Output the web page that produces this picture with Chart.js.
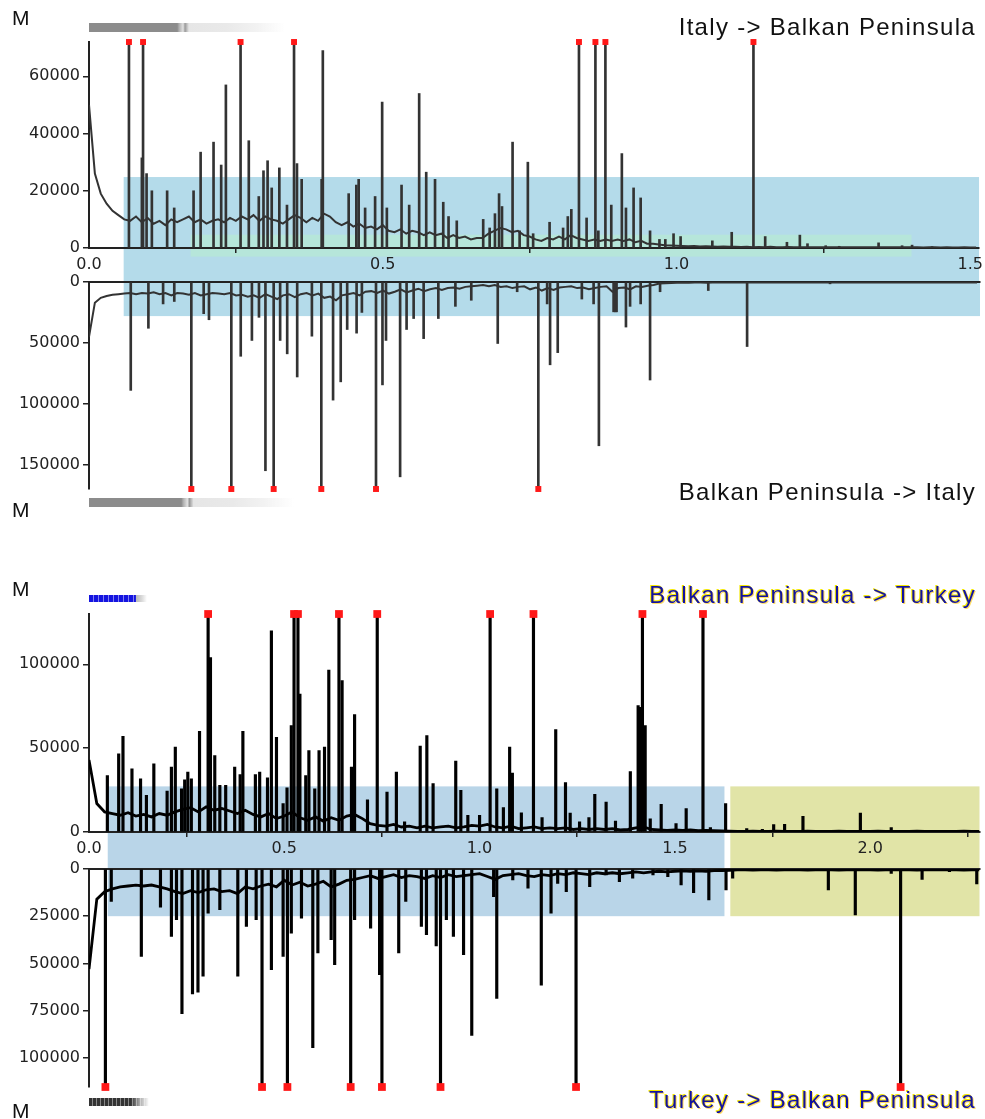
<!DOCTYPE html>
<html>
<head>
<meta charset="utf-8">
<script src="https://cdn.jsdelivr.net/npm/chart.js@4.4.1/dist/chart.umd.min.js"></script>
<style>
  body { margin: 0; background: #fff; width: 985px; height: 1119px; position: relative; overflow: hidden; font-family: "Liberation Sans", Arial, sans-serif; }
  canvas { position: absolute; left: 0; }
  .lbl { position: absolute; white-space: nowrap; color: #111; line-height: 1; }
  .m { font-size: 21px; left: 12px; }
  .ttl { font-size: 24px; right: 9px; letter-spacing: 1.3px; }
  .blue { color: #1212a0; text-shadow: -1px -1px 0 #f4e800, 1px 1px 0 rgba(255,200,0,0.6); }
  .strip { position: absolute; left: 89px; }
  .grey { width: 196px; height: 9px; background: linear-gradient(90deg, #8c8c8c 0, #8c8c8c 45%, #b0b0b0 46%, #e2e2e2 48%, #9a9a9a 49%, #e6e6e6 51%, #e9e9e9 70%, #f2f2f2 85%, rgba(255,255,255,0) 100%); }
  .bluebar { width: 58px; height: 7px; background: linear-gradient(90deg, rgba(255,255,255,0) 0, rgba(255,255,255,0) 80%, #bbb 82%, #ddd 92%, rgba(255,255,255,0) 100%), repeating-linear-gradient(90deg, #1414e0 0 4px, #8080f0 4px 5px); background-size: 100% 100%, 47px 100%; background-repeat: no-repeat; }
  .darkbar { width: 60px; height: 8px; background: linear-gradient(90deg, rgba(255,255,255,0) 0, rgba(255,255,255,0) 70%, rgba(255,255,255,0.6) 85%, #fff 100%), repeating-linear-gradient(90deg, #333 0 3px, #888 3px 4px); }
</style>
</head>
<body>
<canvas id="c1" width="985" height="282" style="top:0px"></canvas>
<canvas id="c2" width="985" height="258" style="top:262px"></canvas>
<canvas id="c3" width="985" height="309" style="top:560px"></canvas>
<canvas id="c4" width="985" height="270" style="top:849px"></canvas>

<div class="lbl m" style="top:7px">M</div>
<div class="strip grey" style="top:23px"></div>
<div class="lbl ttl" style="top:15px">Italy -&gt; Balkan Peninsula</div>
<div class="lbl ttl" style="top:480px">Balkan Peninsula -&gt; Italy</div>
<div class="strip grey" style="top:498px; width:205px"></div>
<div class="lbl m" style="top:499px">M</div>

<div class="lbl m" style="top:578px">M</div>
<div class="strip bluebar" style="top:595px"></div>
<div class="lbl ttl blue" style="top:583px">Balkan Peninsula -&gt; Turkey</div>
<div class="lbl ttl blue" style="top:1088px">Turkey -&gt; Balkan Peninsula</div>
<div class="strip darkbar" style="top:1098px"></div>
<div class="lbl m" style="top:1100px">M</div>

<script>
// ---- Italy -> Balkan Peninsula (baseline every 0.01) ----
const p1Step = 0.01;
const p1Base = [
  50000, 26000, 19000, 15500, 13000, 11500, 10000, 9500, 11000, 9000,
  10500, 8500, 9500, 8000, 10000, 9000, 10000, 11000, 9000, 10000,
  8500, 9500, 10000, 9000, 10500, 9500, 11000, 10000, 11500, 9500,
  11000, 10000, 9500, 8500, 10000, 11500, 10500, 9000, 10500, 9500,
  12000, 11000, 9000, 8000, 9000, 7500, 8500, 7000, 7500, 6500,
  8000, 6000, 5500, 6500, 5000, 6000, 5500, 4500, 5500, 4500,
  5000, 3500, 4500, 3500, 4000, 3000, 3500, 3500, 5000, 6000,
  7000, 6500, 5500, 6000, 4500, 4000, 3000, 2500, 3500, 3000,
  4000, 3000, 4500, 3500, 3000, 2500, 3000, 2500, 3000, 2500,
  3000, 2500, 3000, 2000, 2500, 1500, 1500, 1200, 1000, 900,
  800, 700, 600, 700, 500, 600, 500, 400, 500, 400,
  400, 350, 400, 300, 350, 300, 400, 300, 300, 350,
  300, 300, 250, 300, 300, 250, 300, 250, 300, 250,
  300, 250, 250, 300, 250, 250, 300, 250, 250, 250,
  250, 250, 200, 250, 250, 200, 250, 200, 200, 250, 200, 200
];
const p1SpikeX = [0.068, 0.090, 0.092, 0.098, 0.107, 0.133, 0.145, 0.178, 0.190, 0.212, 0.225, 0.233, 0.258, 0.272, 0.289, 0.297, 0.304, 0.311, 0.324, 0.337, 0.349, 0.354, 0.362, 0.396, 0.398, 0.442, 0.455, 0.459, 0.470, 0.487, 0.499, 0.507, 0.532, 0.545, 0.562, 0.574, 0.589, 0.603, 0.612, 0.626, 0.671, 0.682, 0.691, 0.698, 0.703, 0.721, 0.733, 0.747, 0.756, 0.784, 0.807, 0.815, 0.821, 0.834, 0.847, 0.862, 0.867, 0.879, 0.889, 0.907, 0.914, 0.927, 0.939, 0.955, 0.971, 0.981, 0.995, 1.007, 1.061, 1.094, 1.131, 1.151, 1.188, 1.210, 1.223, 1.254, 1.277, 1.344, 1.384, 1.401, 1.435];
const p1SpikeY = [72000, 31500, 72000, 26000, 20000, 20000, 14000, 20000, 33500, 37000, 29000, 57000, 72000, 37500, 18000, 27000, 30500, 21000, 28000, 15000, 72000, 29500, 24000, 24000, 69000, 19000, 22000, 24000, 14000, 18000, 51000, 14000, 22000, 15000, 54000, 26500, 24000, 16000, 11000, 9500, 10000, 7000, 12000, 19000, 14500, 37000, 6000, 30000, 5000, 9000, 7000, 11000, 13500, 72000, 10500, 72000, 6000, 72000, 15000, 33000, 14000, 21000, 17500, 6000, 3000, 3000, 5000, 4000, 2500, 5500, 72000, 4000, 2000, 4500, 1500, 800, 600, 1800, 800, 1000, 500];
const p1Peaks = [0.068, 0.092, 0.258, 0.349, 0.834, 0.862, 0.879, 1.131];
const p1Max = 72000;
const p1Ticks = [0, 20000, 40000, 60000];

// ---- Balkan Peninsula -> Italy ----
const p2Step = 0.01;
const p2Base = [
  45000, 17000, 13000, 11500, 10500, 10000, 9500, 9000, 10000, 9000,
  9500, 8500, 10000, 9000, 11000, 9000, 9500, 10500, 9000, 11000,
  10000, 9000, 9500, 10000, 9000, 11000, 10500, 12000, 11000, 13000,
  10000, 12000, 14000, 11000, 10000, 12500, 10000, 9000, 11000, 9500,
  13000, 12000, 15000, 11000, 10000, 9000, 11000, 8000, 7500, 9000,
  7000, 9500, 8000, 6000, 8500, 7000, 5500, 7500, 6000, 5000,
  6500, 5000, 4500, 5500, 4000, 3500, 3000, 2500, 3500, 2500,
  4000, 3500, 5000, 4000, 3500, 6000, 4500, 7000, 5000, 6500,
  4500, 4000, 3500, 5000, 4500, 6000, 5000, 4000, 3500, 8000,
  5000, 4500, 6000, 3500, 4000, 3000, 2500, 1200, 1000, 800,
  700, 600, 600, 500, 500, 600, 500, 500, 400, 500,
  500, 400, 400, 400, 350, 400, 350, 400, 350, 400,
  400, 350, 400, 400, 350, 400, 350, 350, 400, 350,
  350, 400, 350, 350, 400, 350, 350, 400, 350, 350,
  400, 350, 350, 400, 350, 350, 350, 350, 400, 350, 350, 350
];
const p2SpikeX = [0.071, 0.101, 0.126, 0.145, 0.174, 0.195, 0.204, 0.242, 0.258, 0.277, 0.289, 0.300, 0.314, 0.325, 0.337, 0.354, 0.379, 0.395, 0.415, 0.428, 0.439, 0.455, 0.464, 0.488, 0.499, 0.505, 0.529, 0.540, 0.552, 0.569, 0.594, 0.623, 0.650, 0.695, 0.728, 0.764, 0.779, 0.784, 0.797, 0.838, 0.858, 0.867, 0.892, 0.895, 0.897, 0.913, 0.920, 0.938, 0.954, 0.971, 1.053, 1.119, 1.260];
const p2SpikeY = [89000, 38000, 18000, 16000, 170000, 26000, 31000, 170000, 61000, 48000, 29000, 155000, 170000, 48000, 59000, 78000, 44500, 170000, 97000, 82000, 39000, 42000, 25000, 170000, 84500, 48000, 160000, 39000, 30000, 46500, 30000, 20000, 15000, 50500, 8000, 170000, 18000, 68000, 58000, 14000, 18000, 134500, 24500, 24500, 24500, 37000, 20000, 18000, 80500, 8000, 7000, 53000, 1500];
const p2Peaks = [0.174, 0.242, 0.314, 0.395, 0.488, 0.764];
const p2Max = 170000;
const p2Ticks = [0, 50000, 100000, 150000];
const topXTicks = [0, 0.5, 1.0, 1.5];

// ---- Balkan Peninsula -> Turkey (baseline every 0.02) ----
const p3Step = 0.02;
const p3Base = [
  43000, 17000, 12000, 11000, 10000, 11500, 9500, 10500, 9000, 11000,
  10000, 12000, 13500, 14500, 12000, 15000, 13000, 14000, 12500, 11000,
  13000, 10500, 9000, 11000, 8000, 9500, 12000, 8500, 7000, 9000,
  6500, 8500, 7000, 9500, 10500, 8000, 5000, 4000, 3500, 4500,
  3000, 3500, 2500, 3500, 2500, 3000, 3500, 2500, 3000, 4000,
  3500, 4500, 3000, 2500, 3500, 2000, 2500, 3000, 2000, 2500,
  2000, 2500, 1500, 2000, 1500, 2000, 1500, 2000, 1200, 1500,
  2500, 3000, 1500, 1200, 1000, 1200, 1000, 1200, 800, 1000,
  800, 600, 500, 400, 400, 450, 400, 400, 450, 400,
  400, 400, 450, 400, 400, 400, 450, 400, 400, 400,
  400, 450, 400, 400, 400, 400, 450, 400, 400, 400,
  400, 400, 450, 400, 400
];
const p3SpikeX = [0.047, 0.076, 0.087, 0.110, 0.132, 0.147, 0.166, 0.200, 0.211, 0.221, 0.237, 0.245, 0.253, 0.262, 0.283, 0.305, 0.311, 0.322, 0.335, 0.350, 0.373, 0.387, 0.394, 0.426, 0.437, 0.457, 0.467, 0.480, 0.497, 0.507, 0.518, 0.525, 0.535, 0.540, 0.555, 0.563, 0.578, 0.589, 0.603, 0.614, 0.640, 0.648, 0.672, 0.680, 0.713, 0.738, 0.763, 0.787, 0.808, 0.848, 0.865, 0.881, 0.939, 0.952, 0.970, 1.000, 1.027, 1.044, 1.061, 1.077, 1.084, 1.107, 1.138, 1.160, 1.195, 1.220, 1.232, 1.256, 1.280, 1.295, 1.324, 1.348, 1.386, 1.406, 1.412, 1.417, 1.424, 1.437, 1.465, 1.503, 1.529, 1.572, 1.591, 1.630, 1.684, 1.724, 1.753, 1.781, 1.828, 1.975, 2.054, 2.203];
const p3SpikeY = [33700, 46600, 57000, 37700, 31700, 21800, 40700, 24400, 38700, 50600, 25800, 31100, 35700, 31700, 60100, 130000, 104000, 45600, 27800, 27800, 38700, 34300, 60100, 34300, 35700, 32300, 120000, 56500, 16900, 26400, 63500, 130000, 130000, 82300, 33700, 48600, 25800, 48600, 50600, 96600, 130000, 90300, 38700, 70000, 19200, 130000, 23800, 35700, 6000, 51200, 57500, 28800, 42300, 24800, 9900, 9900, 130000, 25800, 14500, 50600, 35100, 11500, 130000, 8600, 61100, 29400, 11300, 6000, 8600, 22400, 17900, 6500, 36100, 75400, 74400, 130000, 63500, 7900, 16500, 5000, 13900, 130000, 2600, 16900, 2000, 1600, 4400, 4600, 9300, 11300, 2600, 1000];
const p3Peaks = [0.305, 0.525, 0.535, 0.640, 0.738, 1.027, 1.138, 1.417, 1.572];
const p3Max = 130000;
const p3Ticks = [0, 50000, 100000];

// ---- Turkey -> Balkan Peninsula ----
const p4Step = 0.02;
const p4Base = [
  53000, 16000, 12000, 10500, 9500, 9000, 8500, 9000, 8500, 9500,
  10500, 12000, 13000, 11500, 12500, 11000, 10500, 12000, 11500, 13000,
  9500, 10500, 9000, 8000, 9500, 6000, 8500, 7000, 9000, 8000,
  6500, 9500, 8000, 6000, 5500, 4500, 3500, 5000, 4000, 3000,
  4500, 3500, 4000, 5000, 3500, 4500, 3000, 4000, 3500, 3000,
  2500, 4000, 5500, 3500, 3000, 2500, 3500, 4000, 3000, 3500,
  2500, 3000, 2000, 2500, 3000, 2000, 2500, 2000, 2500, 2000,
  1500, 2000, 1500, 1200, 1500, 1200, 1000, 1200, 1000, 1200,
  900, 800, 700, 500, 500, 600, 500, 500, 600, 500,
  500, 500, 600, 500, 500, 500, 600, 500, 500, 500,
  500, 600, 500, 500, 500, 500, 600, 500, 500, 500,
  500, 500, 600, 500, 500
];
const p4SpikeX = [0.042, 0.057, 0.134, 0.183, 0.211, 0.224, 0.238, 0.265, 0.279, 0.292, 0.305, 0.335, 0.381, 0.403, 0.428, 0.443, 0.467, 0.497, 0.508, 0.518, 0.544, 0.573, 0.586, 0.620, 0.629, 0.670, 0.680, 0.721, 0.744, 0.750, 0.793, 0.811, 0.851, 0.864, 0.889, 0.900, 0.915, 0.933, 0.959, 0.980, 1.036, 1.044, 1.085, 1.124, 1.158, 1.183, 1.200, 1.222, 1.247, 1.282, 1.324, 1.358, 1.392, 1.444, 1.482, 1.516, 1.548, 1.587, 1.631, 1.648, 1.893, 1.962, 2.054, 2.078, 2.133, 2.203, 2.273];
const p4SpikeY = [115500, 17200, 46300, 20200, 35700, 26900, 76700, 66200, 65300, 56800, 23400, 21600, 56800, 30400, 26900, 115500, 53300, 46300, 115500, 34000, 26000, 94700, 44500, 37500, 50700, 115500, 26900, 31300, 56000, 115500, 44500, 17200, 30400, 34800, 40700, 115500, 26900, 35700, 45400, 88200, 14600, 68600, 5800, 10200, 61600, 23400, 7600, 12000, 115500, 9300, 3200, 6700, 4900, 3200, 4000, 8400, 12500, 16400, 11100, 4900, 11100, 24300, 2300, 115500, 5500, 1400, 7900];
const p4Peaks = [0.042, 0.443, 0.508, 0.670, 0.750, 0.900, 1.247, 2.078];
const p4Max = 115500;
const p4Ticks = [0, 25000, 50000, 75000, 100000];
const lowXTicks = [0, 0.5, 1.0, 1.5, 2.0];

// shaded regions, drawn behind everything using the chart's own scales
const bandPlugin = {
  id: 'bands',
  beforeDraw(chart, args, opts) {
    const ctx = chart.ctx, xs = chart.scales.x, ys = chart.scales.y;
    (opts.boxes || []).forEach(b => {
      const l = xs.getPixelForValue(b.x0), r = xs.getPixelForValue(b.x1);
      const t = b.y0 === 'top' ? chart.chartArea.top : ys.getPixelForValue(b.y0);
      const btm = b.y1 === 'bottom' ? chart.height : ys.getPixelForValue(b.y1);
      ctx.save();
      ctx.fillStyle = b.color;
      ctx.fillRect(l, Math.min(t, btm), r - l, Math.abs(btm - t));
      ctx.restore();
    });
  }
};

const tickFont = { family: 'DejaVu Sans', size: 16 };

function panel(id, o) {
  const datasets = [
    {
      type: 'scatter',
      data: o.peaks.map(x => ({ x: x, y: o.max })),
      pointStyle: 'rect', pointRadius: o.mark, backgroundColor: '#ff1818',
      borderWidth: 0, clip: false, order: 0
    },
    {
      type: 'line',
      data: o.base.map((y, i) => ({ x: +(i * o.step).toFixed(3), y: y })),
      borderColor: o.color, borderWidth: o.lw, pointRadius: 0, tension: 0, order: 1
    },
    {
      type: 'bar',
      data: o.spikeX.map((x, i) => ({ x: x, y: o.spikeY[i] })),
      backgroundColor: o.color, barThickness: o.bw, grouped: false, order: 2
    }
  ];

  return new Chart(document.getElementById(id), {
    type: 'line',
    data: { datasets: datasets },
    plugins: [bandPlugin],
    options: {
      responsive: false,
      animation: false,
      devicePixelRatio: 1,
      events: [],
      layout: { padding: o.pad },
      plugins: {
        legend: { display: false },
        tooltip: { enabled: false },
        bands: { boxes: o.boxes }
      },
      scales: {
        x: {
          type: 'linear', min: 0, max: o.xmax, offset: false,
          position: o.reverse ? 'top' : 'bottom',
          afterBuildTicks: s => { s.ticks = o.xticks.map(v => ({ value: v })); },
          afterFit: s => { s.height = o.xh; },
          border: { display: true, color: '#222', width: 2 },
          grid: { display: !o.reverse, drawOnChartArea: false, drawTicks: true, tickLength: 5, color: '#222', lineWidth: 1.5 },
          ticks: { display: !o.reverse, color: '#222', font: tickFont, padding: 2, maxRotation: 0, autoSkip: false, callback: v => v.toFixed(1) }
        },
        y: {
          type: 'linear', min: 0, max: o.max, reverse: o.reverse,
          afterBuildTicks: s => { s.ticks = o.yticks.map(v => ({ value: v })); },
          afterFit: s => { s.width = 89; },
          border: { display: true, color: '#222', width: 2 },
          grid: { drawOnChartArea: false, drawTicks: true, tickLength: 6, color: '#222', lineWidth: 1.5 },
          ticks: { color: '#222', font: tickFont, padding: 3, autoSkip: false, callback: v => String(v) }
        }
      }
    }
  });
}

const blueTop = '#b4dbea', tealTop = '#b6e6da', blueLow = '#b9d5e8', yellowLow = '#e1e4a7';

panel('c1', {
  base: p1Base, step: p1Step, spikeX: p1SpikeX, spikeY: p1SpikeY, peaks: p1Peaks,
  max: p1Max, yticks: p1Ticks, xticks: topXTicks, xmax: 1.515, reverse: false,
  color: '#333', lw: 2, bw: 2, mark: 4.2, xh: 34,
  pad: { top: 42, right: 5, left: 0, bottom: 0 },
  boxes: [
    { x0: 0.059, x1: 1.515, y0: 24800, y1: 'bottom', color: blueTop },
    { x0: 0.173, x1: 1.40, y0: 4650, y1: -3000, color: tealTop }
  ]
});
panel('c2', {
  base: p2Base, step: p2Step, spikeX: p2SpikeX, spikeY: p2SpikeY, peaks: p2Peaks,
  max: p2Max, yticks: p2Ticks, xticks: topXTicks, xmax: 1.515, reverse: true,
  color: '#333', lw: 2, bw: 2, mark: 4.2, xh: 0,
  pad: { top: 20, right: 5, left: 0, bottom: 31 },
  boxes: [
    { x0: 0.059, x1: 1.515, y0: 'top', y1: 28000, color: blueTop }
  ]
});
panel('c3', {
  base: p3Base, step: p3Step, spikeX: p3SpikeX, spikeY: p3SpikeY, peaks: p3Peaks,
  max: p3Max, yticks: p3Ticks, xticks: lowXTicks, xmax: 2.28, reverse: false,
  color: '#000', lw: 2.8, bw: 2.5, mark: 5.5, xh: 37,
  pad: { top: 54, right: 5, left: 0, bottom: 0 },
  boxes: [
    { x0: 0.048, x1: 1.627, y0: 27200, y1: 'bottom', color: blueLow },
    { x0: 1.642, x1: 2.28, y0: 27200, y1: 'bottom', color: yellowLow }
  ]
});
panel('c4', {
  base: p4Base, step: p4Step, spikeX: p4SpikeX, spikeY: p4SpikeY, peaks: p4Peaks,
  max: p4Max, yticks: p4Ticks, xticks: lowXTicks, xmax: 2.28, reverse: true,
  color: '#000', lw: 2.8, bw: 2.5, mark: 5.5, xh: 0,
  pad: { top: 20, right: 5, left: 0, bottom: 32 },
  boxes: [
    { x0: 0.048, x1: 1.627, y0: 'top', y1: 25000, color: blueLow },
    { x0: 1.642, x1: 2.28, y0: 'top', y1: 25000, color: yellowLow }
  ]
});
</script>
</body>
</html>
